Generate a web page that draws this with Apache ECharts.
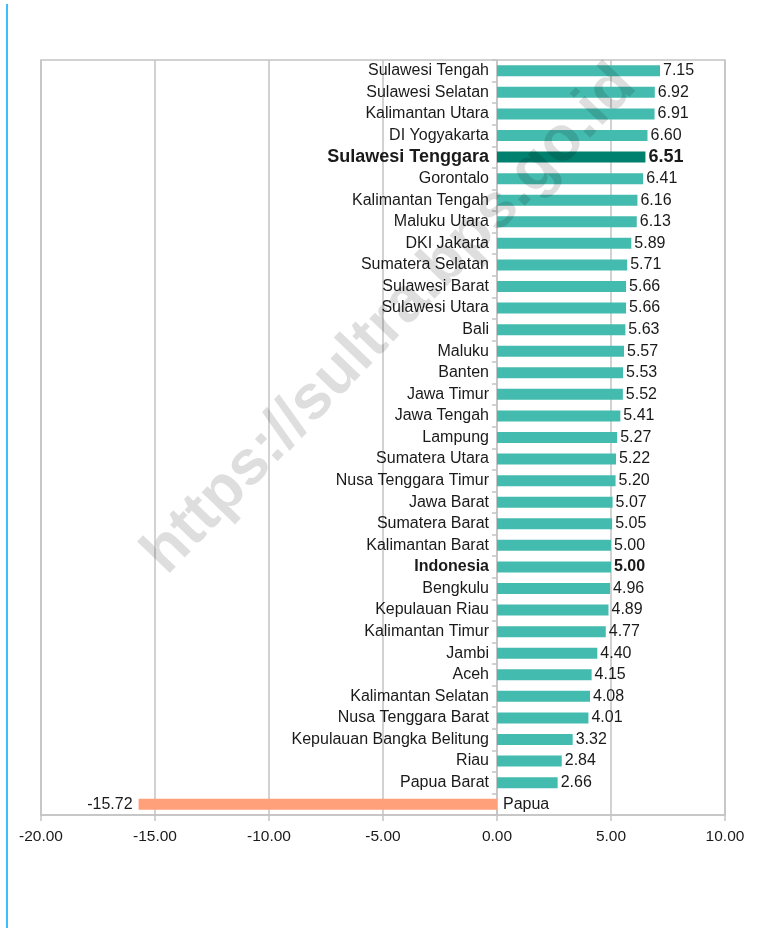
<!DOCTYPE html>
<html>
<head>
<meta charset="utf-8">
<script src="https://cdn.jsdelivr.net/npm/echarts@6/dist/echarts.min.js"></script>
<style>
  html, body { margin: 0; padding: 0; background: #fff; }
  #chart { width: 758px; height: 928px; }
  #edge { position: absolute; left: 6px; top: 4px; width: 2px; height: 924px; background: #3fbcff; z-index: 10; }
</style>
</head>
<body>
<div id="edge"></div>
<div id="chart"></div>
<script>
// Provinces, top to bottom
const provinces = [
  'Sulawesi Tengah', 'Sulawesi Selatan', 'Kalimantan Utara', 'DI Yogyakarta',
  'Sulawesi Tenggara', 'Gorontalo', 'Kalimantan Tengah', 'Maluku Utara',
  'DKI Jakarta', 'Sumatera Selatan', 'Sulawesi Barat', 'Sulawesi Utara',
  'Bali', 'Maluku', 'Banten', 'Jawa Timur', 'Jawa Tengah', 'Lampung',
  'Sumatera Utara', 'Nusa Tenggara Timur', 'Jawa Barat', 'Sumatera Barat',
  'Kalimantan Barat', 'Indonesia', 'Bengkulu', 'Kepulauan Riau',
  'Kalimantan Timur', 'Jambi', 'Aceh', 'Kalimantan Selatan',
  'Nusa Tenggara Barat', 'Kepulauan Bangka Belitung', 'Riau', 'Papua Barat', 'Papua'
];
// Growth values (%)
const growth = [
  7.15, 6.92, 6.91, 6.60, 6.51, 6.41, 6.16, 6.13, 5.89, 5.71, 5.66, 5.66,
  5.63, 5.57, 5.53, 5.52, 5.41, 5.27, 5.22, 5.20, 5.07, 5.05, 5.00, 5.00,
  4.96, 4.89, 4.77, 4.40, 4.15, 4.08, 4.01, 3.32, 2.84, 2.66, -15.72
];
const xTicks = [-20, -15, -10, -5, 0, 5, 10];

const focus = 'Sulawesi Tenggara';
const national = 'Indonesia';
const gridColor = '#c3c3c3';
const textColor = '#1a1a1a';
const font = 'Liberation Sans, Arial, sans-serif';
const labelSize = 16;
const focusSize = 18;

const barData = provinces.map((name, i) => {
  const v = growth[i];
  const item = { value: v };
  if (name === focus) {
    item.itemStyle = { color: '#00806f' };
    item.label = { fontWeight: 'bold', fontSize: focusSize };
  } else if (v < 0) {
    item.itemStyle = { color: '#ffa07a' };
    item.label = { position: 'left', distance: 6 };
  } else if (name === national) {
    item.label = { fontWeight: 'bold' };
  }
  return item;
});

// Province names sit beside the zero line: left for growth, right for contraction
const nameData = provinces.map((name, i) => {
  const item = { value: [0, name] };
  const lab = {};
  if (growth[i] < 0) { lab.position = 'right'; lab.distance = 6; }
  if (name === focus) { lab.fontWeight = 'bold'; lab.fontSize = focusSize; }
  if (name === national) { lab.fontWeight = 'bold'; }
  item.label = lab;
  return item;
});

const chart = echarts.init(document.getElementById('chart'), null, { renderer: 'canvas' });
chart.setOption({
  animation: false,
  backgroundColor: '#fff',
  textStyle: { fontFamily: font },
  grid: {
    left: 41, right: 33, top: 60, bottom: 113,
    show: true, borderColor: gridColor, borderWidth: 1.5, containLabel: false
  },
  xAxis: {
    type: 'value',
    min: xTicks[0], max: xTicks[xTicks.length - 1], interval: 5,
    axisLine: { show: true, lineStyle: { color: gridColor, width: 1.5 } },
    axisTick: { show: true, length: 6, lineStyle: { color: gridColor, width: 1.5 } },
    splitLine: { show: true, lineStyle: { color: gridColor, width: 1.5 } },
    axisLabel: {
      color: textColor, fontSize: 15.5, margin: 14, fontFamily: font,
      formatter: v => v.toFixed(2)
    }
  },
  yAxis: {
    type: 'category',
    inverse: true,
    data: provinces,
    axisLine: { show: true, onZero: true, lineStyle: { color: gridColor, width: 1.5 } },
    axisTick: { show: true, length: 5, lineStyle: { color: gridColor, width: 1.5 } },
    axisLabel: { show: false }
  },
  series: [
    {
      type: 'bar',
      data: barData,
      barWidth: 11,
      itemStyle: { color: '#43bbae' },
      label: {
        show: true, position: 'right', distance: 3,
        color: textColor, fontSize: labelSize, fontFamily: font,
        formatter: p => p.value.toFixed(2)
      },
      z: 3
    },
    {
      type: 'scatter',
      symbolSize: 0,
      silent: true,
      data: nameData,
      itemStyle: { opacity: 1 },
      label: {
        show: true, position: 'left', distance: 8, opacity: 1,
        color: textColor, fontSize: labelSize, fontFamily: font,
        formatter: p => p.value[1]
      },
      z: 4
    }
  ],
  graphic: [{
    type: 'text',
    x: 390, y: 320,
    rotation: Math.PI * 46 / 180,
    z: 100,
    silent: true,
    style: {
      text: 'https://sultra.bps.go.id',
      font: 'bold 63px Liberation Sans, Arial, sans-serif',
      fill: 'rgba(0,0,0,0.13)',
      align: 'center',
      verticalAlign: 'middle'
    }
  }]
});
</script>
</body>
</html>
